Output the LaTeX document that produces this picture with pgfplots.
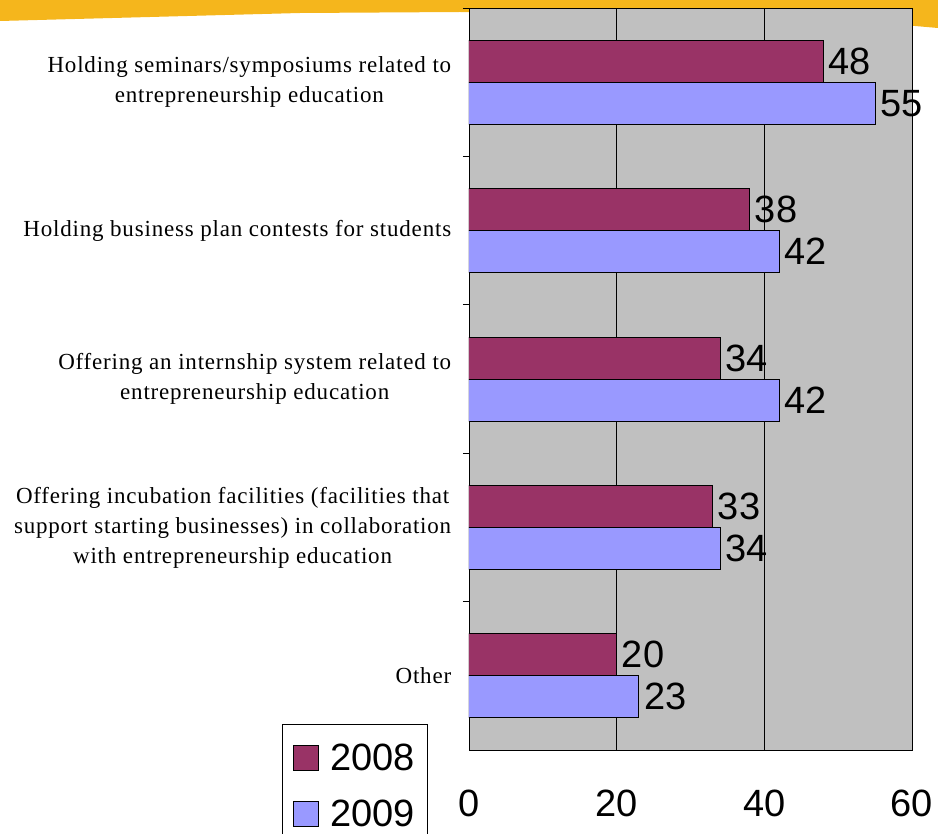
\documentclass[border=0pt]{standalone}
\usepackage{pgfplots}
\pgfplotsset{compat=1.18}
\usepackage{fontspec}
\setmainfont[LetterSpace=3.5]{Liberation Serif}
\newfontfamily\sansf{Liberation Sans}
\definecolor{bareight}{HTML}{993366}
\definecolor{barnine}{HTML}{9999FF}
\definecolor{plotbg}{HTML}{C0C0C0}
\definecolor{brush}{HTML}{F5B61C}
\begin{document}
\begin{tikzpicture}
\fill[brush] (0pt,0pt) -- (938pt,0pt) -- (938pt,-28pt) -- (915pt,-26pt) -- (700pt,-16pt) -- (600pt,-14pt) -- (460pt,-12pt) -- (300pt,-13pt) -- (150pt,-17pt) -- (0pt,-21pt) -- cycle;
\begin{axis}[
  at={(469pt,-8pt)}, anchor=north west,
  width=443pt, height=742pt, scale only axis,
  xmin=0, xmax=60, ymin=-0.5, ymax=4.5, y dir=reverse,
  xbar, bar width=0.283,
  /pgf/number format/assume math mode=true,
  axis background/.style={fill=plotbg},
  xtick={0,20,40,60},
  xmajorgrids, grid style={black, line width=0.8pt},
  major x tick style={draw=none},
  xticklabel style={font=\sansf\fontsize{38}{42}\selectfont},
  xticklabel shift=32pt,
  ytick pos=left,
  ytick={0,1,2,3,4},
  yticklabels={{Holding seminars/symposiums related to\\entrepreneurship education},
    {Holding business plan contests for students},
    {Offering an internship system related to\\entrepreneurship education},
    {Offering incubation facilities (facilities that\\support starting businesses) in collaboration\\with entrepreneurship education},
    {Other}},
  major y tick style={draw=none},
  minor ytick={-0.5,0.5,1.5,2.5,3.5},
  minor tick length=6pt, tick align=outside,
  minor y tick style={black, line width=0.8pt},
  yticklabel style={font=\fontsize{23}{30}\selectfont, align=center, xshift=-10pt},
  axis line style={black, line width=0.8pt},
  nodes near coords,
  every node near coord/.append style={font=\sansf\fontsize{38}{42}\selectfont, anchor=west, xshift=1.5pt, black},
  legend style={at={(-0.4221,0.035)}, anchor=north west, draw=black, fill=white,
    font=\sansf\fontsize{38}{42}\selectfont, row sep=24pt, inner xsep=4pt, inner ysep=18pt,
    cells={anchor=west}},
  legend image code/.code={\draw[#1,draw=black,line width=1pt] (7pt,-12.5pt) rectangle (32pt,12.5pt); \path[draw=none,fill=none] (0pt,0pt) -- (36pt,0pt);},
  legend cell align=left,
  legend style={nodes={inner xsep=8pt}},
]
\addplot[fill=bareight, draw=black, line width=1pt, bar shift=-0.1415] coordinates {(48,0) (38,1) (34,2) (33,3) (20,4)};
\addplot[fill=barnine, draw=black, line width=1pt, bar shift=0.1415] coordinates {(55,0) (42,1) (42,2) (34,3) (23,4)};
\legend{2008,2009}
\end{axis}
\pgfresetboundingbox
\path (0pt,0pt) rectangle (938pt,-834pt);
\end{tikzpicture}
\end{document}
